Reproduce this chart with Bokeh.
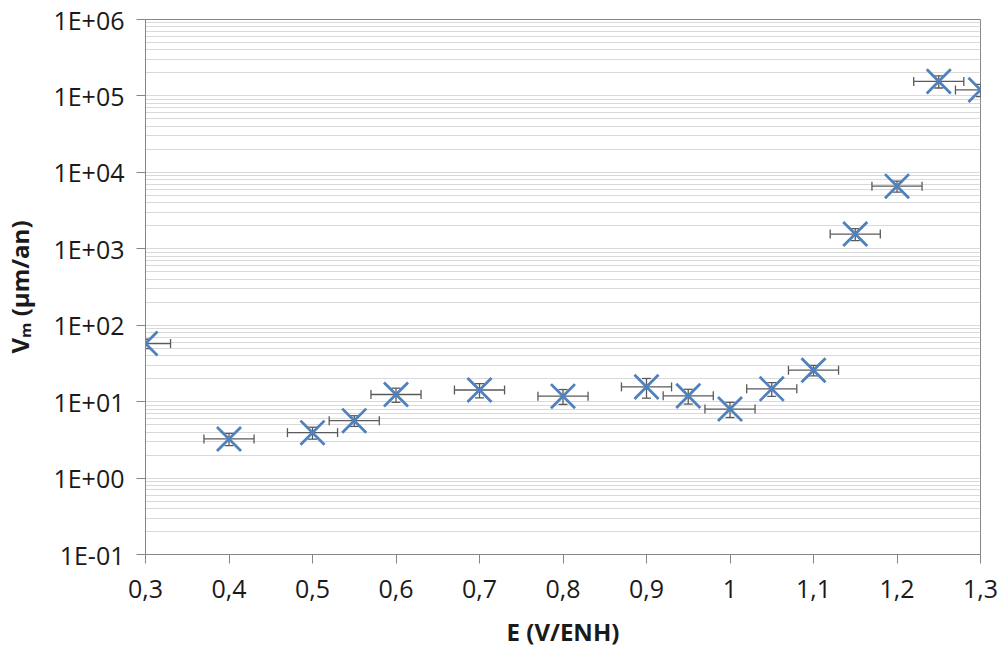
from bokeh.plotting import figure
from bokeh.models import ColumnDataSource, Whisker, TeeHead, FixedTicker
from bokeh.embed import file_html
from bokeh.resources import INLINE

# Data
potential = [0.3, 0.4, 0.5, 0.55, 0.6, 0.7, 0.8, 0.9, 0.95, 1.0, 1.05, 1.1, 1.15, 1.2, 1.25, 1.3]
rate = [57.5, 3.25, 3.93, 5.64, 12.4, 14.2, 11.8, 15.6, 11.9, 8.0, 14.7, 25.8, 1560, 6600, 155000, 120000]
rate_err = [8, 0.6, 0.7, 0.9, 2.6, 3.0, 2.6, 4.5, 2.6, 1.8, 3.0, 4.0, 280, 1100, 28000, 22000]
potential_err = [0.03] * 16

x_ticks = [0.3, 0.4, 0.5, 0.6, 0.7, 0.8, 0.9, 1.0, 1.1, 1.2, 1.3]
x_tick_labels = ["0,3", "0,4", "0,5", "0,6", "0,7", "0,8", "0,9", "1", "1,1", "1,2", "1,3"]
y_decades = [-1, 0, 1, 2, 3, 4, 5, 6]
y_tick_labels = ["1E-01", "1E+00", "1E+01", "1E+02", "1E+03", "1E+04", "1E+05", "1E+06"]

FONT = "Open Sans"
BLUE = "#4F81BD"
ERR = "#5A5A5A"
AXIS = "#868686"
GRID = "#D9D9D9"

src = ColumnDataSource(dict(
    x=potential, y=rate,
    xl=[a - e for a, e in zip(potential, potential_err)],
    xu=[a + e for a, e in zip(potential, potential_err)],
    yl=[a - e for a, e in zip(rate, rate_err)],
    yu=[a + e for a, e in zip(rate, rate_err)],
))

p = figure(width=1000, height=650, y_axis_type="log",
           x_range=(0.3, 1.3), y_range=(0.1, 1e6),
           output_backend="svg", toolbar_location=None,
           min_border_left=145, min_border_right=20,
           min_border_top=19, min_border_bottom=95)
p.background_fill_color = "white"
p.border_fill_color = "white"
p.outline_line_color = AXIS
p.outline_line_width = 1

# Ticks
y_major = [10.0 ** d for d in y_decades]
y_minor = [m * 10.0 ** d for d in y_decades[:-1] for m in range(2, 10)]
p.yaxis.ticker = FixedTicker(ticks=y_major, minor_ticks=y_minor)
p.yaxis.major_label_overrides = {v: lab for v, lab in zip(y_major, y_tick_labels)}
p.xaxis.ticker = FixedTicker(ticks=x_ticks)
p.xaxis.major_label_overrides = {v: lab for v, lab in zip(x_ticks, x_tick_labels)}

for ax in (p.xaxis[0], p.yaxis[0]):
    ax.axis_line_color = AXIS
    ax.major_tick_line_color = AXIS
    ax.major_tick_in = 0
    ax.major_tick_out = 9
    ax.minor_tick_line_color = None
    ax.major_label_text_font = FONT
    ax.major_label_text_font_size = "25px"
    ax.major_label_text_color = "#1a1a1a"
    ax.axis_label_text_font = FONT
    ax.axis_label_text_font_size = "24px"
    ax.axis_label_text_font_style = "bold"
    ax.axis_label_text_color = "#1a1a1a"

p.xaxis.axis_label = "E (V/ENH)"
p.yaxis.axis_label = "Vₘ (µm/an)"
p.yaxis.major_label_standoff = 12
p.xaxis.major_label_standoff = 16
p.xaxis.axis_label_standoff = 14
p.yaxis.axis_label_standoff = 14

p.xgrid.grid_line_color = None
p.ygrid.grid_line_color = GRID
p.ygrid.grid_line_width = 1.2
p.ygrid.minor_grid_line_color = GRID
p.ygrid.minor_grid_line_width = 1.2

# Error bars
p.add_layout(Whisker(source=src, base="y", lower="xl", upper="xu", dimension="width",
                     line_color=ERR, line_width=1.3,
                     lower_head=TeeHead(size=9, line_color=ERR, line_width=1.3),
                     upper_head=TeeHead(size=9, line_color=ERR, line_width=1.3)))
p.add_layout(Whisker(source=src, base="x", lower="yl", upper="yu", dimension="height",
                     line_color=ERR, line_width=1.3,
                     lower_head=TeeHead(size=9, line_color=ERR, line_width=1.3),
                     upper_head=TeeHead(size=9, line_color=ERR, line_width=1.3)))

p.scatter("x", "y", source=src, marker="x", size=34, line_color=BLUE, line_width=2.8)

open("out.html", "w").write(file_html(p, INLINE))
